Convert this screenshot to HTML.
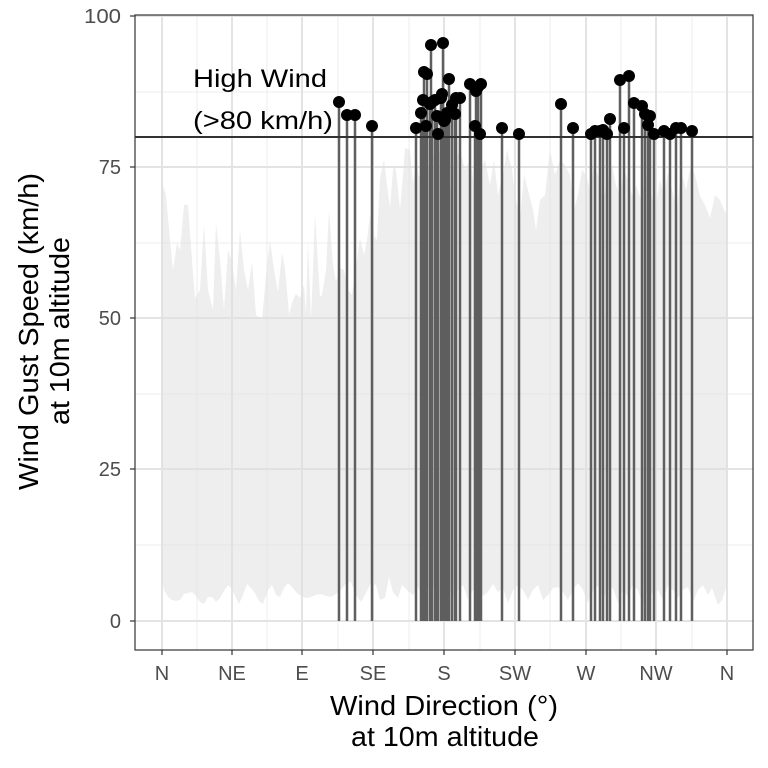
<!DOCTYPE html>
<html><head><meta charset="utf-8"><style>body{margin:0;background:#fff}svg{display:block}</style></head><body>
<svg width="768" height="768" viewBox="0 0 768 768" xmlns="http://www.w3.org/2000/svg" font-family="Liberation Sans, sans-serif">
<rect width="768" height="768" fill="#fff"/>
<g stroke="#ececec" stroke-width="1">
<line x1="135" x2="753" y1="545" y2="545"/><line x1="135" x2="753" y1="394" y2="394"/><line x1="135" x2="753" y1="243" y2="243"/><line x1="135" x2="753" y1="92" y2="92"/>
<line x1="197" x2="197" y1="15" y2="650"/><line x1="267" x2="267" y1="15" y2="650"/><line x1="338" x2="338" y1="15" y2="650"/><line x1="409" x2="409" y1="15" y2="650"/><line x1="480" x2="480" y1="15" y2="650"/><line x1="550" x2="550" y1="15" y2="650"/><line x1="621" x2="621" y1="15" y2="650"/><line x1="692" x2="692" y1="15" y2="650"/>
</g>
<g stroke="#e3e3e3" stroke-width="2">
<line x1="135" x2="753" y1="621" y2="621"/><line x1="135" x2="753" y1="469" y2="469"/><line x1="135" x2="753" y1="318" y2="318"/><line x1="135" x2="753" y1="167" y2="167"/><line x1="135" x2="753" y1="16" y2="16"/>
<line x1="162" x2="162" y1="15" y2="650"/><line x1="232" x2="232" y1="15" y2="650"/><line x1="302" x2="302" y1="15" y2="650"/><line x1="373" x2="373" y1="15" y2="650"/><line x1="444" x2="444" y1="15" y2="650"/><line x1="515" x2="515" y1="15" y2="650"/><line x1="586" x2="586" y1="15" y2="650"/><line x1="656" x2="656" y1="15" y2="650"/><line x1="727" x2="727" y1="15" y2="650"/>
</g>
<polygon fill="#e0e0e0" fill-opacity="0.55" points="162,580 162,183 166,195 170,240 173,270 177,243 180,250 184,205 188,205 192,260 195,298 200,290 204,225 208,290 213,310 216,223 220,260 224,310 228,250 232,262 236,290 240,230 244,270 248,290 252,262 256,315 262,320 266,275 270,240 274,270 278,292 282,253 285,268 289,314 293,300 296,294 300,298 304,285 306,315 308,240 311,320 313,270 315,213 318,265 320,297 322,295 326,270 329,210 333,265 336,282 340,268 344,270 348,290 352,295 357,260 360,238 364,255 367,240 370,215 374,236 377,240 380,178 384,160 387,185 390,208 393,170 395,165 397,180 400,210 403,175 405,148 410,150 413,185 416,160 419,178 421,170 424,180 427,175 432,148 436,165 440,150 446,140 450,190 455,160 460,150 465,170 470,160 475,190 480,170 485,160 490,185 494,160 498,195 503,175 507,150 512,170 516,200 520,220 524,175 528,190 533,210 536,230 540,200 545,195 550,150 555,175 560,160 565,165 570,175 574,210 578,195 582,170 586,175 590,190 594,165 598,175 603,200 608,180 612,165 616,185 620,195 624,170 628,180 632,195 636,185 641,200 646,175 650,190 655,210 660,180 664,195 668,172 672,190 677,210 681,170 686,190 691,165 695,175 700,196 705,205 710,218 715,195 720,200 724,210 727,215 727,585 722,600 718,605 712,588 708,595 703,585 698,590 693,602 688,587 683,590 678,598 673,590 668,585 663,600 658,590 653,595 648,586 643,605 638,590 633,585 628,596 623,590 618,603 613,588 608,590 603,598 598,586 593,590 588,603 583,590 578,583 573,590 568,600 563,592 558,587 553,588 548,595 543,600 538,585 533,590 528,600 523,590 518,585 513,590 508,603 503,588 498,592 493,584 488,592 483,596 478,588 473,590 468,600 463,585 458,590 453,596 448,588 443,592 438,604 433,585 428,590 423,598 418,587 413,595 407,590 402,585 398,598 393,592 389,577 385,598 380,600 376,585 371,583 366,593 361,602 356,595 351,582 346,583 341,590 336,594 331,597 326,596 321,594 316,595 311,597 306,598 301,596 296,592 292,587 288,583 284,588 280,597 276,595 272,585 268,590 263,604 259,601 255,593 251,588 247,584 243,595 239,604 236,598 232,589 228,585 224,591 220,598 216,602 212,597 208,597 204,604 200,602 196,596 192,592 188,593 184,594 180,600 176,601 172,600 168,597 164,590"/>
<g stroke="#5f5f5f" stroke-width="2.5">
<line x1="339" x2="339" y1="621" y2="102"/><line x1="347" x2="347" y1="621" y2="115"/><line x1="355" x2="355" y1="621" y2="115"/><line x1="372" x2="372" y1="621" y2="126"/>
<line x1="416" x2="416" y1="621" y2="128"/><line x1="421" x2="421" y1="621" y2="113"/><line x1="423" x2="423" y1="621" y2="100"/><line x1="424" x2="424" y1="621" y2="72"/><line x1="427" x2="427" y1="621" y2="74"/><line x1="426" x2="426" y1="621" y2="126"/><line x1="430" x2="430" y1="621" y2="104"/><line x1="431" x2="431" y1="621" y2="45"/><line x1="432" x2="432" y1="621" y2="102"/><line x1="435" x2="435" y1="621" y2="100"/><line x1="437" x2="437" y1="621" y2="116"/><line x1="438" x2="438" y1="621" y2="134"/><line x1="441" x2="441" y1="621" y2="98"/><line x1="442" x2="442" y1="621" y2="94"/><line x1="444" x2="444" y1="621" y2="121"/><line x1="443" x2="443" y1="621" y2="43"/><line x1="445" x2="445" y1="621" y2="120"/><line x1="447" x2="447" y1="621" y2="113"/><line x1="449" x2="449" y1="621" y2="79"/><line x1="452" x2="452" y1="621" y2="105"/><line x1="455" x2="455" y1="621" y2="114"/><line x1="456" x2="456" y1="621" y2="98"/><line x1="460" x2="460" y1="621" y2="98"/><line x1="470" x2="470" y1="621" y2="84"/><line x1="475" x2="475" y1="621" y2="126"/><line x1="476" x2="476" y1="621" y2="91"/><line x1="478" x2="478" y1="621" y2="87"/><line x1="480" x2="480" y1="621" y2="134"/><line x1="481" x2="481" y1="621" y2="84"/><line x1="502" x2="502" y1="621" y2="128"/><line x1="519" x2="519" y1="621" y2="134"/>
<line x1="561" x2="561" y1="621" y2="104"/><line x1="573" x2="573" y1="621" y2="128"/><line x1="591" x2="591" y1="621" y2="134"/><line x1="595" x2="595" y1="621" y2="131"/><line x1="600" x2="600" y1="621" y2="131"/><line x1="603" x2="603" y1="621" y2="130"/><line x1="607" x2="607" y1="621" y2="134"/><line x1="610" x2="610" y1="621" y2="119"/><line x1="620" x2="620" y1="621" y2="80"/><line x1="624" x2="624" y1="621" y2="128"/><line x1="629" x2="629" y1="621" y2="76"/><line x1="634" x2="634" y1="621" y2="103"/><line x1="642" x2="642" y1="621" y2="106"/><line x1="645" x2="645" y1="621" y2="114"/><line x1="648" x2="648" y1="621" y2="125"/><line x1="650" x2="650" y1="621" y2="116"/><line x1="654" x2="654" y1="621" y2="134"/><line x1="664" x2="664" y1="621" y2="131"/><line x1="670" x2="670" y1="621" y2="134"/><line x1="676" x2="676" y1="621" y2="128"/><line x1="681" x2="681" y1="621" y2="128"/><line x1="692" x2="692" y1="621" y2="131"/>
</g>
<line x1="135" x2="753" y1="137" y2="137" stroke="#333" stroke-width="2"/>
<g fill="#000">
<circle cx="339" cy="102" r="6"/><circle cx="347" cy="115" r="6"/><circle cx="355" cy="115" r="6"/><circle cx="372" cy="126" r="6"/>
<circle cx="416" cy="128" r="6"/><circle cx="421" cy="113" r="6"/><circle cx="423" cy="100" r="6"/><circle cx="424" cy="72" r="6"/><circle cx="427" cy="74" r="6"/><circle cx="426" cy="126" r="6"/><circle cx="430" cy="104" r="6"/><circle cx="431" cy="45" r="6"/><circle cx="432" cy="102" r="6"/><circle cx="435" cy="100" r="6"/><circle cx="437" cy="116" r="6"/><circle cx="438" cy="134" r="6"/><circle cx="441" cy="98" r="6"/><circle cx="442" cy="94" r="6"/><circle cx="444" cy="121" r="6"/><circle cx="443" cy="43" r="6"/><circle cx="445" cy="120" r="6"/><circle cx="447" cy="113" r="6"/><circle cx="449" cy="79" r="6"/><circle cx="452" cy="105" r="6"/><circle cx="455" cy="114" r="6"/><circle cx="456" cy="98" r="6"/><circle cx="460" cy="98" r="6"/><circle cx="470" cy="84" r="6"/><circle cx="475" cy="126" r="6"/><circle cx="476" cy="91" r="6"/><circle cx="478" cy="87" r="6"/><circle cx="480" cy="134" r="6"/><circle cx="481" cy="84" r="6"/><circle cx="502" cy="128" r="6"/><circle cx="519" cy="134" r="6"/>
<circle cx="561" cy="104" r="6"/><circle cx="573" cy="128" r="6"/><circle cx="591" cy="134" r="6"/><circle cx="595" cy="131" r="6"/><circle cx="600" cy="131" r="6"/><circle cx="603" cy="130" r="6"/><circle cx="607" cy="134" r="6"/><circle cx="610" cy="119" r="6"/><circle cx="620" cy="80" r="6"/><circle cx="624" cy="128" r="6"/><circle cx="629" cy="76" r="6"/><circle cx="634" cy="103" r="6"/><circle cx="642" cy="106" r="6"/><circle cx="645" cy="114" r="6"/><circle cx="648" cy="125" r="6"/><circle cx="650" cy="116" r="6"/><circle cx="654" cy="134" r="6"/><circle cx="664" cy="131" r="6"/><circle cx="670" cy="134" r="6"/><circle cx="676" cy="128" r="6"/><circle cx="681" cy="128" r="6"/><circle cx="692" cy="131" r="6"/>
</g>
<text x="193" y="87" font-size="25" fill="#000" textLength="134" lengthAdjust="spacingAndGlyphs">High Wind</text>
<text x="193" y="129" font-size="25" fill="#000" textLength="140" lengthAdjust="spacingAndGlyphs">(&gt;80 km/h)</text>
<rect x="135" y="15" width="618" height="635" fill="none" stroke="#333" stroke-width="1.2"/>
<g stroke="#333" stroke-width="1.2">
<line x1="130" x2="135" y1="621" y2="621"/><line x1="130" x2="135" y1="469" y2="469"/><line x1="130" x2="135" y1="318" y2="318"/><line x1="130" x2="135" y1="167" y2="167"/><line x1="130" x2="135" y1="16" y2="16"/>
<line x1="162" x2="162" y1="650" y2="655"/><line x1="232" x2="232" y1="650" y2="655"/><line x1="302" x2="302" y1="650" y2="655"/><line x1="373" x2="373" y1="650" y2="655"/><line x1="444" x2="444" y1="650" y2="655"/><line x1="515" x2="515" y1="650" y2="655"/><line x1="586" x2="586" y1="650" y2="655"/><line x1="656" x2="656" y1="650" y2="655"/><line x1="727" x2="727" y1="650" y2="655"/>
</g>
<g font-size="20" fill="#4d4d4d" text-anchor="end">
<text x="121" y="628">0</text><text x="121" y="476">25</text><text x="121" y="325">50</text><text x="121" y="174">75</text><text x="121" y="23" textLength="37" lengthAdjust="spacingAndGlyphs">100</text>
</g>
<g font-size="20" fill="#4d4d4d" text-anchor="middle">
<text x="162" y="680">N</text><text x="232" y="680">NE</text><text x="302" y="680">E</text><text x="373" y="680">SE</text><text x="444" y="680">S</text><text x="515" y="680">SW</text><text x="586" y="680">W</text><text x="656" y="680">NW</text><text x="727" y="680">N</text>
</g>
<g font-size="28" fill="#000">
<text x="330" y="715" textLength="228" lengthAdjust="spacingAndGlyphs">Wind Direction (°)</text>
<text x="351" y="746" textLength="188" lengthAdjust="spacingAndGlyphs">at 10m altitude</text>
<text transform="translate(38,490) rotate(-90)" textLength="317" lengthAdjust="spacingAndGlyphs">Wind Gust Speed (km/h)</text>
<text transform="translate(69,425) rotate(-90)" textLength="188" lengthAdjust="spacingAndGlyphs">at 10m altitude</text>
</g>
</svg>
</body></html>
